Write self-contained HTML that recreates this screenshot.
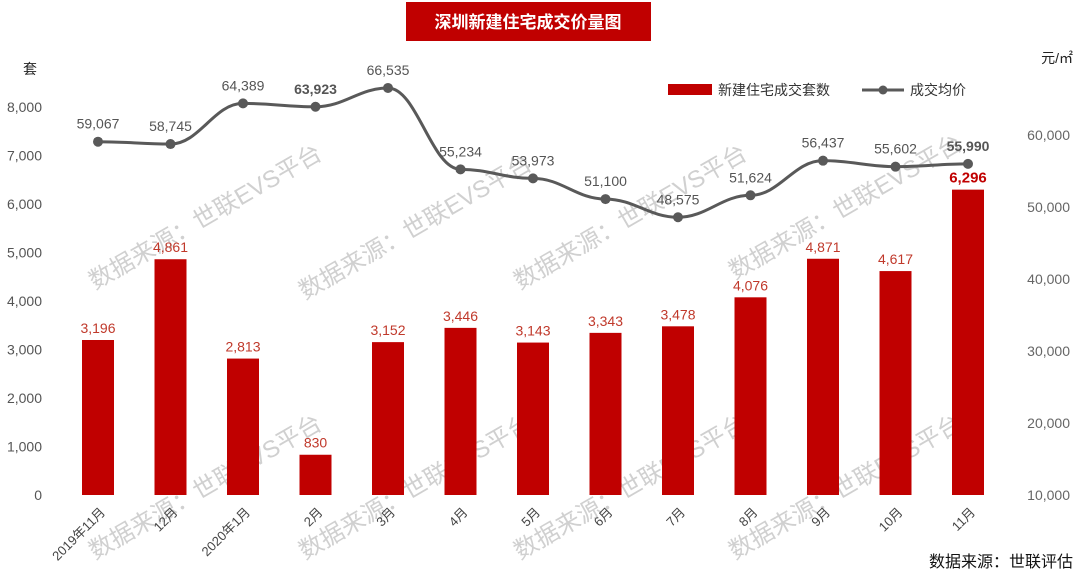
<!DOCTYPE html>
<html><head><meta charset="utf-8"><style>
body{margin:0;background:#fff;}
svg{display:block;font-family:"Liberation Sans","Noto Sans CJK SC",sans-serif;}
</style></head><body>
<svg id="c" width="1080" height="579" viewBox="0 0 1080 579">
<rect x="406" y="2" width="245" height="39" fill="#c00000"/>
<text x="528" y="28" text-anchor="middle" font-size="17" font-weight="bold" fill="#fff">深圳新建住宅成交价量图</text>
<text x="30" y="74" font-size="14" fill="#222" text-anchor="middle">套</text>
<text x="1073" y="63" font-size="14" fill="#222" text-anchor="end">元/㎡</text>
<g>
<rect x="668" y="84" width="44" height="11" fill="#c00000"/>
<text x="718" y="95" font-size="14" fill="#333">新建住宅成交套数</text>
<line x1="862" y1="90" x2="904" y2="90" stroke="#595959" stroke-width="3"/>
<circle cx="883" cy="90" r="4.5" fill="#595959"/>
<text x="910" y="95" font-size="14" fill="#333">成交均价</text>
</g>
<g id="wm"></g>
<g id="g"></g>
<text x="1073" y="567" font-size="16" fill="#111" text-anchor="end">数据来源：世联评估</text>
</svg>
<script>
const categories=["2019年11月","12月","2020年1月","2月","3月","4月","5月","6月","7月","8月","9月","10月","11月"];
const units=[3196,4861,2813,830,3152,3446,3143,3343,3478,4076,4871,4617,6296];
const prices=[59067,58745,64389,63923,66535,55234,53973,51100,48575,51624,56437,55602,55990];
const leftTicks=[0,1000,2000,3000,4000,5000,6000,7000,8000];
const rightTicks=[10000,20000,30000,40000,50000,60000];
const NS="http://www.w3.org/2000/svg";
const g=document.getElementById('g');
const x=i=>98+i*72.5;
const yL=v=>495-v*0.0485;
const yR=v=>495-(v-10000)*0.0072;
const fmt=v=>v.toLocaleString('en-US');
function mk(t,a,p){const e=document.createElementNS(NS,t);for(const k in a)e.setAttribute(k,a[k]);(p||g).appendChild(e);return e;}
const wm=document.getElementById('wm');
[[95,290],[305,300],[520,290],[735,280],[95,560],[305,560],[520,560],[735,560]].forEach((p,i)=>{
 const t=mk('text',{x:p[0],y:p[1],'font-size':24,fill:'#d0d0d0',transform:`rotate(-30 ${p[0]} ${p[1]})`},wm);
 
 
 t.textContent='数据来源：世联EVS平台';
});
leftTicks.forEach(v=>{const t=mk('text',{x:42,y:yL(v)+5,'font-size':14,fill:'#555','text-anchor':'end'});
 
 
 t.textContent=fmt(v);});
rightTicks.forEach(v=>{const t=mk('text',{x:1070,y:yR(v)+5,'font-size':14,fill:'#666','text-anchor':'end'});
 
 
 t.textContent=fmt(v);});
units.forEach((v,i)=>{
 const r=mk('rect',{x:x(i)-16,y:yL(v),width:32,height:495-yL(v),fill:'#c00000'});
 
 
 const last=i===units.length-1;
 const t=mk('text',{x:x(i),y:yL(v)-7,'font-size':last?15:14,'font-weight':last?'bold':'normal',fill:last?'#c00000':'#c0392b','text-anchor':'middle'});
 
 
 t.textContent=fmt(v);
 const c=mk('text',{x:x(i)+8,y:513,'font-size':13,fill:'#444','text-anchor':'end',transform:`rotate(-45 ${x(i)+8} 513)`});
 
 
 c.textContent=categories[i];
});
let d='M'+x(0)+','+yR(prices[0]);
for(let i=1;i<prices.length;i++){const x0=x(i-1),y0=yR(prices[i-1]),x1=x(i),y1=yR(prices[i]);const dx=(x1-x0)/2.5;d+=` C${x0+dx},${y0} ${x1-dx},${y1} ${x1},${y1}`;}
const pl=mk('path',{d:d,fill:'none',stroke:'#595959','stroke-width':3});


prices.forEach((v,i)=>{
 const c=mk('circle',{cx:x(i),cy:yR(v),r:5,fill:'#595959'});
 
 
 const b=(i===3||i===12);
 const t=mk('text',{x:x(i),y:yR(v)-13,'font-size':14,'font-weight':b?'bold':'normal',fill:'#555','text-anchor':'middle'});
 
 
 t.textContent=fmt(v);
});
</script>
</body></html>
